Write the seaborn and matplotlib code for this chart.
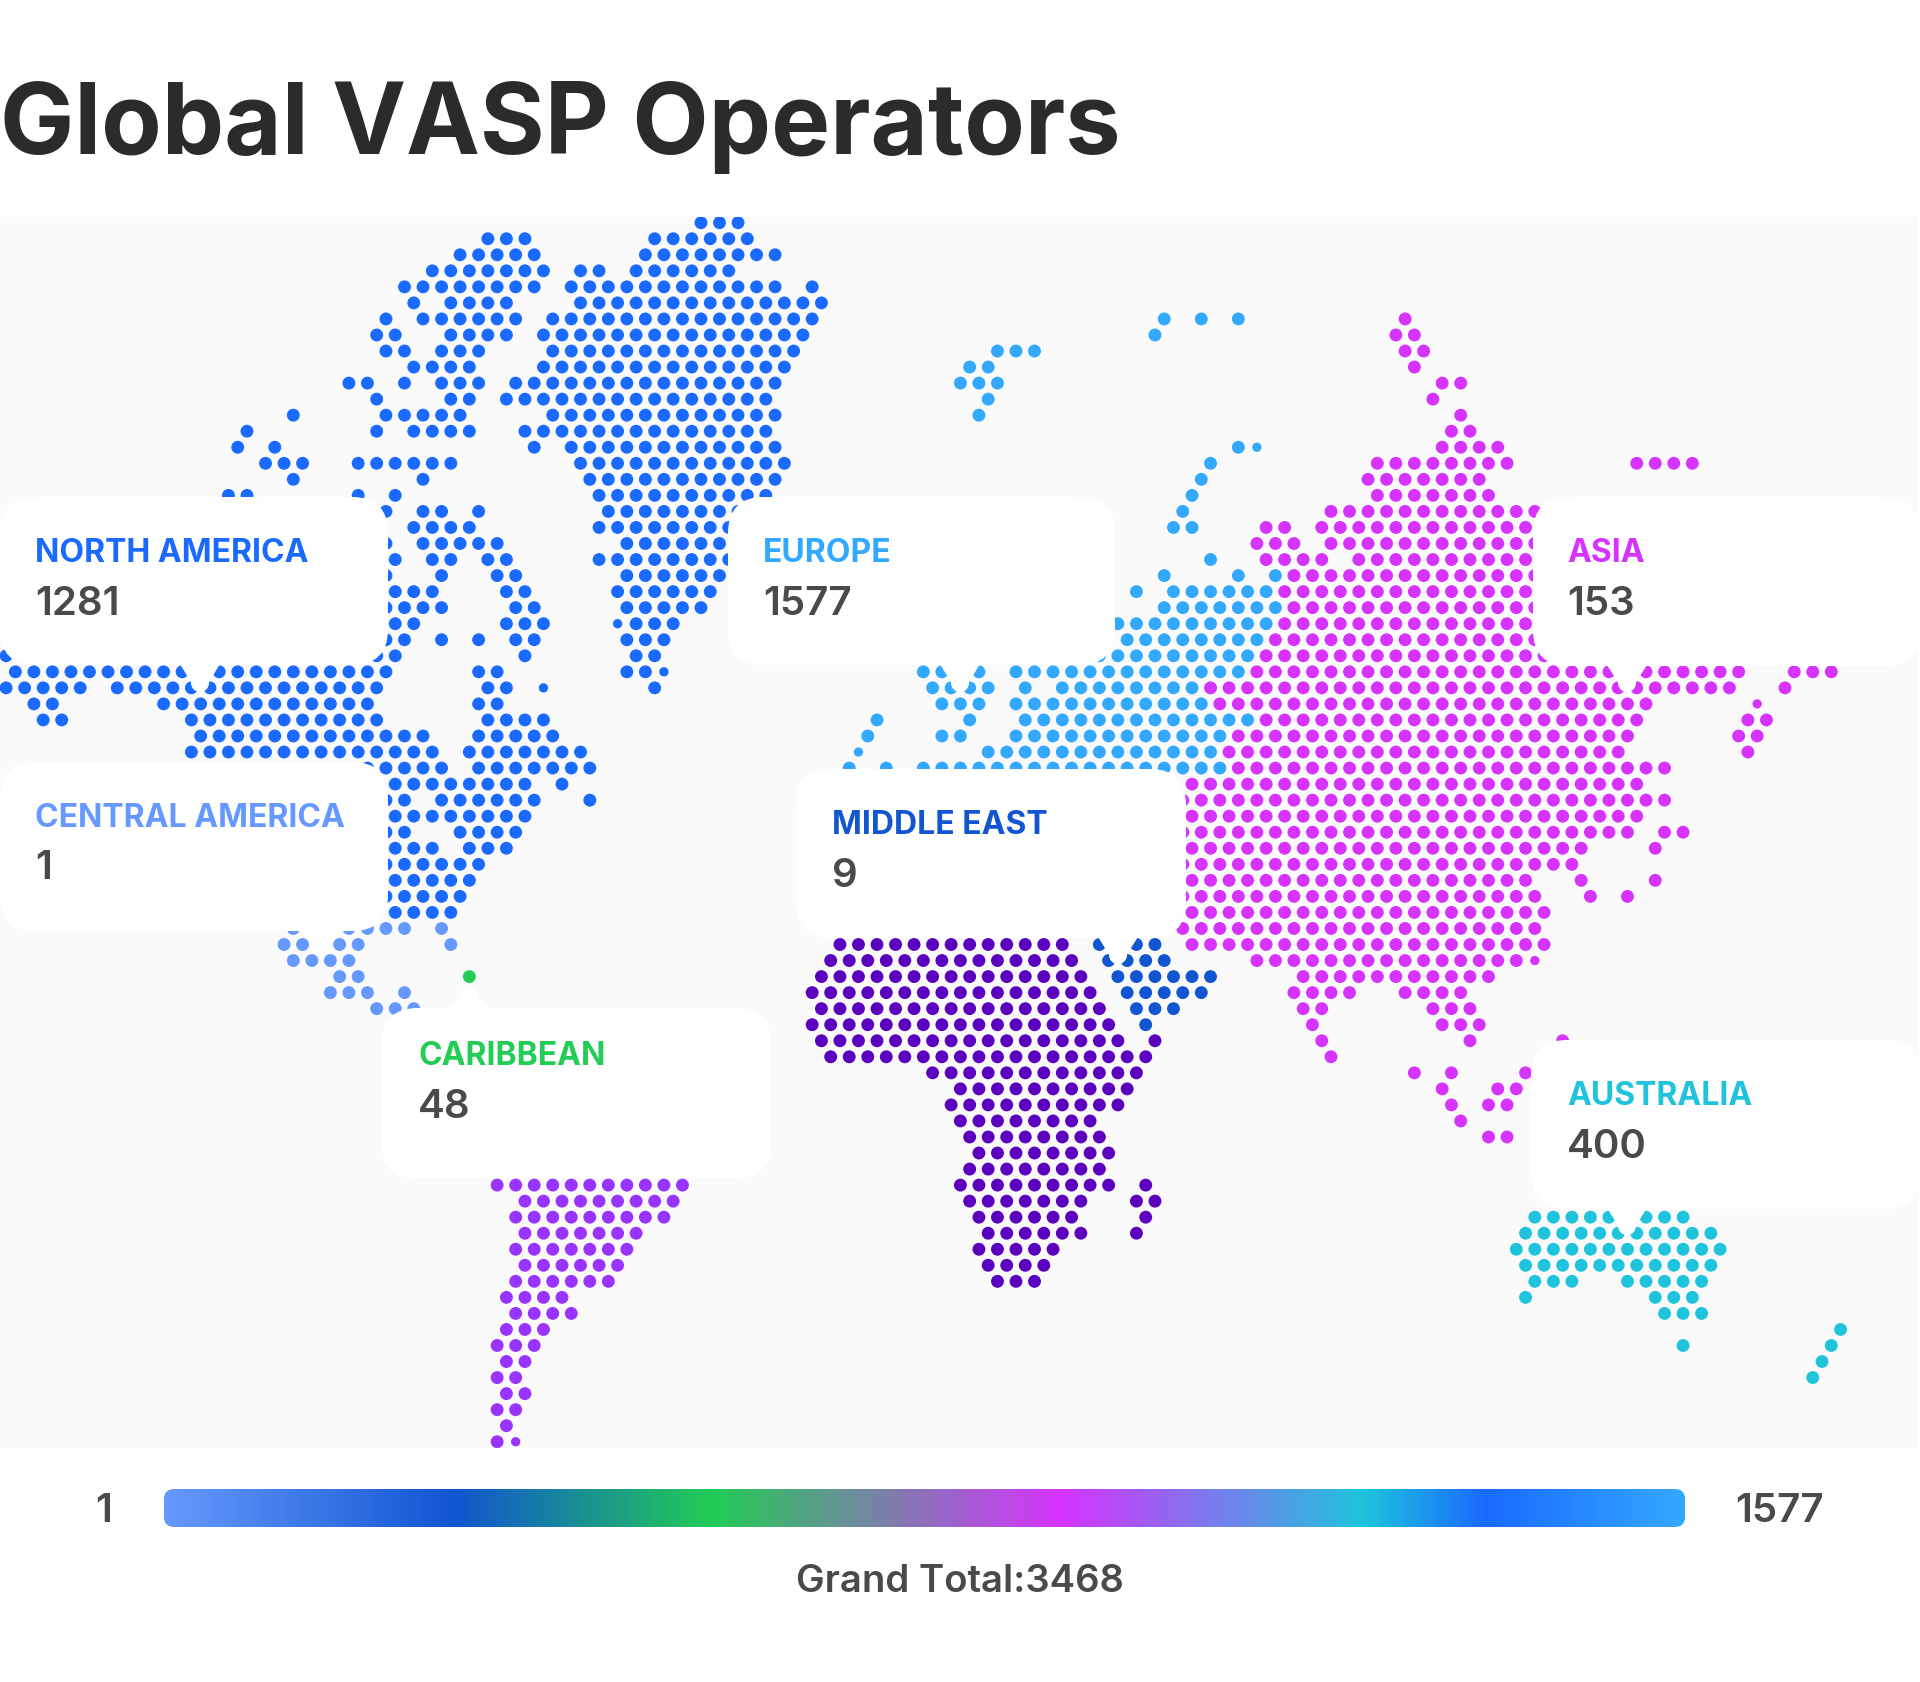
import matplotlib
matplotlib.use('Agg')

import numpy
import pandas
import seaborn as sns
import matplotlib.pyplot as plt

from matplotlib.colors import LinearSegmentedColormap
from matplotlib.patches import Circle, FancyBboxPatch, Polygon

# every run is (row, first half-column, last half-column), dots sit on every second half-column
NORTH_AMERICA = [
    (1, 52, 56), (1, 70, 80), (2, 49, 57), (2, 69, 83), (3, 46, 58), (3, 62, 64), (3, 68, 78),
    (4, 43, 57), (4, 61, 83), (4, 87, 87), (5, 44, 44), (5, 48, 54), (5, 62, 88),
    (6, 41, 41), (6, 45, 55), (6, 59, 87), (7, 40, 42), (7, 48, 54), (7, 58, 86),
    (8, 41, 43), (8, 47, 51), (8, 59, 85), (9, 44, 50), (9, 58, 84),
    (10, 37, 39), (10, 43, 43), (10, 47, 51), (10, 55, 83), (11, 40, 40), (11, 48, 50), (11, 54, 82),
    (12, 31, 31), (12, 41, 49), (12, 59, 83), (13, 26, 26), (13, 40, 40), (13, 44, 50), (13, 56, 82),
    (14, 25, 25), (14, 29, 29), (14, 57, 57), (14, 61, 83), (15, 28, 32), (15, 38, 48), (15, 62, 84),
    (16, 31, 31), (16, 45, 45), (16, 63, 83), (17, 24, 26), (17, 38, 38), (17, 42, 42), (17, 64, 82),
    (18, 41, 41), (18, 45, 47), (18, 51, 51), (18, 65, 81), (19, 44, 50), (19, 64, 80),
    (20, 41, 41), (20, 45, 53), (20, 67, 79), (21, 42, 42), (21, 46, 48), (21, 52, 54), (21, 64, 80),
    (22, 41, 41), (22, 47, 47), (22, 53, 55), (22, 67, 79), (23, 42, 46), (23, 54, 56), (23, 66, 76),
    (24, 41, 47), (24, 55, 57), (24, 67, 75), (25, 42, 44), (25, 54, 58), (25, 66, 72),
    (26, 41, 43), (26, 47, 47), (26, 51, 51), (26, 55, 57), (26, 67, 71),
    (27, 0, 0), (27, 40, 42), (27, 56, 56), (27, 68, 70),
    (28, 1, 41), (28, 51, 53), (28, 67, 71), (29, 0, 8), (29, 12, 40), (29, 52, 54), (29, 58, 58), (29, 70, 70),
    (30, 3, 5), (30, 17, 39), (30, 51, 53), (31, 4, 6), (31, 20, 40), (31, 52, 58),
    (32, 21, 45), (32, 51, 59), (33, 20, 46), (33, 50, 62), (34, 39, 47), (34, 51, 63),
    (35, 42, 56), (35, 60, 60), (36, 41, 43), (36, 47, 57), (36, 63, 63), (37, 42, 56),
    (38, 41, 43), (38, 49, 55), (39, 42, 46), (39, 50, 54), (40, 41, 51), (41, 42, 50),
    (42, 41, 49), (43, 42, 48), (0, 75, 79),
]
CENTRAL_AMERICA = [
    (44, 31, 31), (44, 37, 43), (44, 47, 47), (45, 30, 32), (45, 36, 38), (45, 48, 48),
    (46, 31, 37), (47, 36, 38), (48, 35, 39), (48, 43, 43), (49, 40, 44),
]
CARIBBEAN = [(47, 50, 50)]
SOUTH_AMERICA = [
    (60, 53, 73), (61, 56, 72), (62, 55, 71), (63, 56, 68), (64, 55, 67), (65, 56, 66), (66, 55, 65),
    (67, 54, 60), (68, 55, 61), (69, 54, 58), (70, 53, 57), (71, 54, 56), (72, 53, 55),
    (73, 54, 56), (74, 53, 55), (75, 54, 54), (76, 53, 55),
]
EUROPE = [
    (6, 125, 125), (6, 129, 129), (6, 133, 133), (7, 124, 124), (8, 107, 111), (9, 104, 106),
    (10, 103, 107), (11, 106, 106), (12, 105, 105), (14, 133, 135), (15, 130, 130), (16, 129, 129),
    (17, 128, 128), (18, 127, 127), (19, 126, 128), (21, 130, 130), (22, 125, 125), (22, 133, 133),
    (22, 137, 137), (23, 122, 122), (23, 126, 136), (24, 125, 137), (25, 120, 136), (26, 121, 135),
    (27, 118, 134), (28, 99, 105), (28, 109, 133), (29, 100, 106), (29, 110, 110), (29, 114, 128),
    (30, 101, 105), (30, 109, 129), (31, 94, 94), (31, 104, 104), (31, 110, 134),
    (32, 93, 93), (32, 101, 103), (32, 109, 131), (33, 92, 92), (33, 106, 130),
    (34, 91, 91), (34, 95, 95), (34, 99, 131),
]
ASIA = [
    (6, 151, 151), (7, 150, 152), (8, 151, 153), (9, 152, 152), (10, 155, 157), (11, 154, 154),
    (12, 157, 157), (13, 156, 158), (14, 155, 161), (15, 148, 162), (15, 176, 182), (16, 147, 159),
    (17, 148, 160), (18, 143, 165), (19, 136, 138), (19, 142, 164), (20, 135, 139), (20, 143, 165),
    (21, 136, 142), (21, 146, 164), (22, 139, 165), (23, 138, 164), (24, 139, 165), (25, 138, 164),
    (26, 137, 165), (27, 136, 166), (28, 135, 187), (28, 193, 197), (29, 130, 186), (29, 192, 192),
    (30, 131, 177), (30, 189, 189), (31, 136, 176), (31, 188, 190), (32, 133, 175), (32, 187, 189),
    (33, 132, 174), (33, 188, 188), (34, 133, 179), (35, 126, 176), (36, 127, 179), (37, 128, 176),
    (38, 127, 175), (38, 179, 181), (39, 128, 170), (39, 178, 178), (40, 127, 169),
    (41, 128, 164), (41, 170, 170), (41, 178, 178), (42, 127, 165), (42, 171, 171), (42, 175, 175),
    (43, 128, 166), (44, 127, 165), (45, 128, 166), (46, 135, 165), (47, 140, 160),
    (48, 139, 145), (48, 151, 157), (49, 140, 142), (49, 154, 158), (50, 141, 141), (50, 155, 159),
    (51, 142, 142), (51, 158, 158), (51, 168, 168), (52, 143, 143), (53, 152, 152), (53, 156, 156),
    (53, 164, 164), (54, 155, 155), (54, 161, 163), (55, 156, 156), (55, 160, 162), (56, 157, 157),
    (57, 160, 162),
]
MIDDLE_EAST = [(45, 118, 124), (46, 119, 125), (47, 120, 130), (48, 121, 129), (49, 122, 126), (50, 123, 123)]
AFRICA = [
    (45, 90, 114), (46, 89, 115), (47, 88, 116), (48, 87, 117), (49, 88, 118), (50, 87, 119),
    (51, 88, 120), (51, 124, 124), (52, 89, 123), (53, 100, 122), (54, 103, 121), (55, 102, 120),
    (56, 103, 117), (57, 104, 118), (58, 105, 119), (59, 104, 118), (60, 103, 119), (60, 123, 123),
    (61, 104, 116), (61, 122, 124), (62, 105, 115), (62, 123, 123), (63, 106, 116), (63, 122, 122),
    (64, 105, 113), (65, 106, 112), (66, 107, 111),
]
AUSTRALIA = [
    (62, 165, 181), (63, 164, 184), (64, 163, 185), (65, 164, 184), (66, 165, 169), (66, 175, 183),
    (67, 164, 164), (67, 178, 182), (68, 179, 183), (69, 198, 198), (70, 181, 181), (70, 197, 197),
    (71, 196, 196), (72, 195, 195),
]

# a few dots are drawn smaller in the picture
SMALL_DOTS = [(25, 66), (28, 71), (29, 58), (76, 55), (33, 92), (14, 135), (30, 189), (46, 165)]

REGIONS = ['North America', 'Central America', 'Caribbean', 'South America', 'Europe',
           'Asia', 'Middle East', 'Africa', 'Australia']
REGION_RUNS = [NORTH_AMERICA, CENTRAL_AMERICA, CARIBBEAN, SOUTH_AMERICA, EUROPE,
               ASIA, MIDDLE_EAST, AFRICA, AUSTRALIA]
REGION_COLORS = ['#1a6aff', '#6699ff', '#22cc55', '#9933ff', '#33a8ff',
                 '#d633ff', '#1155d0', '#5c00bf', '#1fc4dc']

CARD_TITLES = ['NORTH AMERICA', 'CENTRAL AMERICA', 'CARIBBEAN', 'EUROPE', 'MIDDLE EAST', 'ASIA', 'AUSTRALIA']
CARD_VALUES = ['1281', '1', '48', '1577', '9', '153', '400']
CARD_COLORS = ['#1a6aff', '#6699ff', '#22cc55', '#33a8ff', '#1155d0', '#d633ff', '#1fc4dc']

SCALE_COLORS = ['#6699ff', '#1155d0', '#22cc55', '#d633ff', '#1fc4dc', '#1a6aff', '#33a8ff']
SCALE_STOPS = [0.0, 0.19, 0.36, 0.59, 0.79, 0.87, 1.0]
SCALE_MIN = '1'
SCALE_MAX = '1577'
GRAND_TOTAL = 'Grand Total:3468'

TITLE = 'Global VASP Operators'

# layout in pixels of the final image
WIDTH, HEIGHT = 1920, 1682
GRID_X0, GRID_DX = 6.1, 9.265
GRID_Y0, GRID_DY = 222.7, 16.04
PANEL = (0, 217, 1918, 1448)
# left, top, right, bottom, pin x, pin tip y, text x, title baseline, value baseline
CARD_BOXES = [
    (0, 497, 388, 665, 200, 692, 35, 562, 615),
    (0, 762, 388, 931, 321, 956, 35, 827, 879),
    (382, 1008, 771, 1178, 469, 987, 418, 1065, 1118),
    (728, 497, 1115, 665, 960, 692, 763, 562, 615),
    (796, 769, 1186, 938, 1118, 964, 832, 834, 887),
    (1533, 497, 1920, 666, 1627, 692, 1567, 562, 615),
    (1531, 1040, 1920, 1209, 1627, 1235, 1567, 1105, 1158),
]
TEXT_GREY = '#4a4a4a'


def dots_table():
    small = set(SMALL_DOTS)
    rows = []
    for region, runs in zip(REGIONS, REGION_RUNS):
        for row, first, last in runs:
            for col in range(first, last + 1, 2):
                rows.append({'col': col, 'row': row, 'region': region,
                             'dot': 'small' if (row, col) in small else 'normal'})
    return pandas.DataFrame(rows)


def draw_map(fig):
    left, top, right, bottom = PANEL
    ax = fig.add_axes([left / WIDTH, 1 - bottom / HEIGHT, (right - left) / WIDTH, (bottom - top) / HEIGHT])
    ax.set_facecolor('#fafafa')

    sns.scatterplot(data=dots_table(), x='col', y='row', hue='region', hue_order=REGIONS,
                    palette=dict(zip(REGIONS, REGION_COLORS)), size='dot',
                    sizes={'normal': 86, 'small': 45}, linewidth=0, legend=False, ax=ax)

    ax.set_xlim((left - GRID_X0) / GRID_DX, (right - GRID_X0) / GRID_DX)
    ax.set_ylim((bottom - GRID_Y0) / GRID_DY, (top - GRID_Y0) / GRID_DY)
    ax.set_xticks([])
    ax.set_yticks([])
    ax.set_xlabel('')
    ax.set_ylabel('')
    sns.despine(ax=ax, left=True, bottom=True)


def draw_card(ax, box, title, value, color):
    left, top, right, bottom, pin_x, pin_y, text_x, title_y, value_y = box
    ax.add_patch(FancyBboxPatch((left, top), right - left, bottom - top,
                                boxstyle='round,pad=0,rounding_size=36', fc='white', ec='none', zorder=3))

    base = bottom if pin_y > bottom else top
    way = 1 if pin_y > bottom else -1
    neck = pin_y - way * 9
    ax.add_patch(Polygon([(pin_x - 20, base - way), (pin_x - 8.5, neck), (pin_x + 8.5, neck), (pin_x + 20, base - way)],
                         fc='white', ec='none', zorder=3))
    ax.add_patch(Circle((pin_x, neck), 9, fc='white', ec='none', zorder=3))

    ax.text(text_x, title_y, title, color=color, fontsize=23, fontweight='bold', va='baseline', zorder=4)
    ax.text(text_x, value_y, value, color=TEXT_GREY, fontsize=29, fontweight='semibold', va='baseline', zorder=4)


def draw_scale(ax):
    cmap = LinearSegmentedColormap.from_list('scale', list(zip(SCALE_STOPS, SCALE_COLORS)))
    gradient = numpy.linspace(0, 1, 1024)[None, :]
    image = ax.imshow(gradient, cmap=cmap, aspect='auto', extent=(164, 1685, 1527, 1489), zorder=2)
    frame = FancyBboxPatch((164, 1489), 1521, 38, boxstyle='round,pad=0,rounding_size=10',
                           fc='none', ec='none', transform=ax.transData)
    ax.add_patch(frame)
    image.set_clip_path(frame)

    ax.text(95, 1522, SCALE_MIN, color=TEXT_GREY, fontsize=29, fontweight='semibold', va='baseline')
    ax.text(1735, 1522, SCALE_MAX, color=TEXT_GREY, fontsize=29, fontweight='semibold', va='baseline')
    ax.text(960, 1592, GRAND_TOTAL, color=TEXT_GREY, fontsize=27.6, fontweight='semibold', ha='center', va='baseline')


sns.set_theme(style='white')
plt.rcParams['font.family'] = ['Inter', 'DejaVu Sans']

fig = plt.figure(figsize=(WIDTH / 100, HEIGHT / 100), dpi=100, facecolor='white')
draw_map(fig)

overlay = fig.add_axes([0, 0, 1, 1], zorder=2)
overlay.patch.set_alpha(0)
overlay.set_axis_off()

draw_scale(overlay)
overlay.set_xlim(0, WIDTH)
overlay.set_ylim(HEIGHT, 0)

for box, title, value, color in zip(CARD_BOXES, CARD_TITLES, CARD_VALUES, CARD_COLORS):
    draw_card(overlay, box, title, value, color)

overlay.text(0, 154, TITLE, color='#2b2b2b', fontsize=71.3, fontweight='bold', va='baseline')

fig.savefig('out.png', dpi=100)
plt.close('all')
